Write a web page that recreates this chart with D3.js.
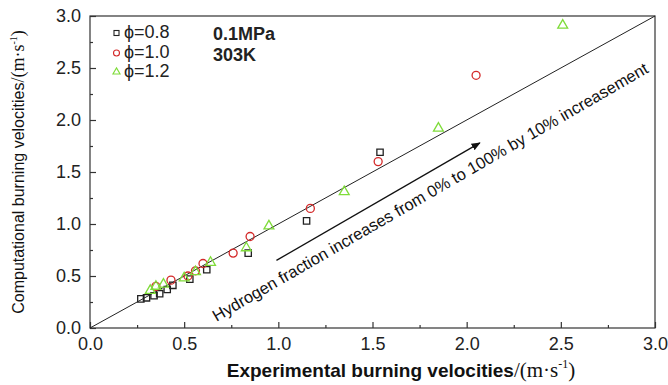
<!DOCTYPE html>
<html>
<head>
<meta charset="utf-8">
<script src="https://cdn.jsdelivr.net/npm/d3@7"></script>
<style>
  body { margin: 0; background: #fff; }
  text { font-family: Arial, "Liberation Sans", sans-serif; }
</style>
</head>
<body>
<div class="chart"></div>
<script>
var margin = {top: 16, right: 13, bottom: 57, left: 90};
let width = 668 - margin.left - margin.right;
let height = 385 - margin.top - margin.bottom;

// values: [experimental, computational]
var phi08 = [[0.27,0.28],[0.30,0.29],[0.34,0.31],[0.37,0.33],[0.41,0.37],[0.44,0.41],
             [0.53,0.47],[0.62,0.56],[0.84,0.72],[1.15,1.03],[1.54,1.69]];
var phi10 = [[0.35,0.40],[0.43,0.46],[0.52,0.50],[0.56,0.55],[0.60,0.62],[0.76,0.72],
             [0.85,0.88],[1.17,1.15],[1.53,1.60],[2.05,2.43]];
var phi12 = [[0.32,0.36],[0.35,0.40],[0.39,0.42],[0.50,0.48],[0.56,0.54],[0.64,0.63],
             [0.83,0.77],[0.95,0.98],[1.35,1.31],[1.85,1.92],[2.51,2.91]];
var legendLabels = ["\u03d5=0.8", "\u03d5=1.0", "\u03d5=1.2"];
var tickValues = [0, 0.5, 1.0, 1.5, 2.0, 2.5, 3.0];
var arrowFrom = [0.99, 0.65], arrowTo = [2.07, 1.78];

var svg = d3.select(".chart").append("svg")
    .attr("width", 668).attr("height", 385);
var g = svg.append("g")
    .attr("transform", "translate(" + margin.left + "," + margin.top + ")");

var x = d3.scaleLinear().domain([0, 3]).range([0, width]);
var y = d3.scaleLinear().domain([0, 3]).range([height, 0]);

var minor = d3.range(0, 3.01, 0.25).filter(function(d) { return Math.abs(d*2 - Math.round(d*2)) > 0.01; });

// frame
g.append("rect").attr("width", width).attr("height", height)
  .attr("fill", "none").attr("stroke", "#333").attr("stroke-width", 1.2);

// axes with inward ticks
g.append("g").attr("transform", "translate(0," + height + ")")
  .call(d3.axisBottom(x).tickValues(tickValues).tickSize(-6).tickPadding(9).tickFormat(d3.format(".1f")));
g.append("g")
  .call(d3.axisLeft(y).tickValues(tickValues).tickSize(-6).tickPadding(9).tickFormat(d3.format(".1f")));
g.append("g").attr("transform", "translate(0," + height + ")")
  .call(d3.axisBottom(x).tickValues(minor).tickSize(-3).tickFormat(""));
g.append("g")
  .call(d3.axisLeft(y).tickValues(minor).tickSize(-3).tickFormat(""));
g.selectAll(".domain").remove();
g.selectAll(".tick line").attr("stroke", "#333").attr("stroke-width", 1.2);
g.selectAll(".tick text").attr("font-size", 18).attr("fill", "#222");

// y = x reference line
g.append("line")
  .attr("x1", x(0)).attr("y1", y(0)).attr("x2", x(3)).attr("y2", y(3))
  .attr("stroke", "#222").attr("stroke-width", 1);

// arrow
svg.append("defs").append("marker").attr("id", "head")
  .attr("viewBox", "0 0 10 10").attr("refX", 9).attr("refY", 5)
  .attr("markerWidth", 7).attr("markerHeight", 7).attr("orient", "auto")
  .append("path").attr("d", "M0,1 L10,5 L0,9 Z").attr("fill", "#111");
g.append("line")
  .attr("x1", x(arrowFrom[0])).attr("y1", y(arrowFrom[1]))
  .attr("x2", x(arrowTo[0])).attr("y2", y(arrowTo[1]))
  .attr("stroke", "#111").attr("stroke-width", 1.3).attr("marker-end", "url(#head)");

var ang = Math.atan2(y(arrowTo[1]) - y(arrowFrom[1]), x(arrowTo[0]) - x(arrowFrom[0])) * 180 / Math.PI;
g.append("text")
  .attr("transform", "translate(" + (433 - margin.left) + "," + (197 - margin.top) + ") rotate(" + ang + ")")
  .attr("text-anchor", "middle").attr("font-size", 16.5).attr("fill", "#111")
  .text("Hydrogen fraction increases from 0% to 100% by 10% increasement");

// markers
var sq = d3.symbol().type(d3.symbolSquare).size(40);
var tri = d3.symbol().type(d3.symbolTriangle).size(42);

g.selectAll(".s08").data(phi08).enter().append("path")
  .attr("d", sq).attr("transform", function(d) { return "translate(" + x(d[0]) + "," + y(d[1]) + ")"; })
  .attr("fill", "none").attr("stroke", "#222").attr("stroke-width", 1.3);
g.selectAll(".s10").data(phi10).enter().append("circle")
  .attr("cx", function(d) { return x(d[0]); }).attr("cy", function(d) { return y(d[1]); })
  .attr("r", 4).attr("fill", "none").attr("stroke", "#d42a2a").attr("stroke-width", 1.3);
g.selectAll(".s12").data(phi12).enter().append("path")
  .attr("d", tri).attr("transform", function(d) { return "translate(" + x(d[0]) + "," + y(d[1]) + ")"; })
  .attr("fill", "none").attr("stroke", "#7fdc3a").attr("stroke-width", 1.3);

// legend
var leg = svg.append("g");
var ly = [33, 53, 72];
leg.append("rect").attr("x", 114).attr("y", ly[0] - 2.5).attr("width", 5).attr("height", 5)
  .attr("fill", "none").attr("stroke", "#222").attr("stroke-width", 1.1);
leg.append("circle").attr("cx", 116.5).attr("cy", ly[1]).attr("r", 3)
  .attr("fill", "none").attr("stroke", "#d42a2a").attr("stroke-width", 1.1);
leg.append("path").attr("d", d3.symbol().type(d3.symbolTriangle).size(22))
  .attr("transform", "translate(116.5," + ly[2] + ")")
  .attr("fill", "none").attr("stroke", "#7fdc3a").attr("stroke-width", 1.1);
leg.selectAll(".lt").data(legendLabels).enter().append("text")
  .attr("x", 124).attr("y", function(d, i) { return ly[i] + 5; })
  .attr("font-family", "'Liberation Serif', 'DejaVu Serif', serif").attr("font-size", 18).attr("fill", "#222")
  .text(function(d) { return d; });
svg.append("text").attr("x", 213).attr("y", 40).attr("font-size", 18).attr("font-weight", "bold")
  .attr("fill", "#222").text("0.1MPa");
svg.append("text").attr("x", 213).attr("y", 61).attr("font-size", 18).attr("font-weight", "bold")
  .attr("fill", "#222").text("303K");

// axis titles
var xt = svg.append("text").attr("x", 401).attr("y", 377).attr("text-anchor", "middle")
  .attr("font-size", 19).attr("font-weight", "bold").attr("fill", "#111");
xt.append("tspan").text("Experimental burning velocities");
xt.append("tspan").attr("font-family", "'Liberation Serif', serif").attr("font-weight", "normal").attr("font-size", 21).text("/(m\u00b7s");
xt.append("tspan").attr("font-family", "'Liberation Serif', serif").attr("font-weight", "normal").attr("font-size", 12).attr("dy", -9).text("-1");
xt.append("tspan").attr("font-family", "'Liberation Serif', serif").attr("font-weight", "normal").attr("font-size", 21).attr("dy", 9).text(")");

var yt = svg.append("text").attr("transform", "translate(24,172) rotate(-90)").attr("text-anchor", "middle")
  .attr("font-size", 16).attr("fill", "#111");
yt.append("tspan").text("Computational burning velocities");
yt.append("tspan").attr("font-family", "'Liberation Serif', serif").attr("font-size", 18).text("/(m\u00b7s");
yt.append("tspan").attr("font-family", "'Liberation Serif', serif").attr("font-size", 10).attr("dy", -7).text("-1");
yt.append("tspan").attr("font-family", "'Liberation Serif', serif").attr("font-size", 18).attr("dy", 7).text(")");
</script>
</body>
</html>
